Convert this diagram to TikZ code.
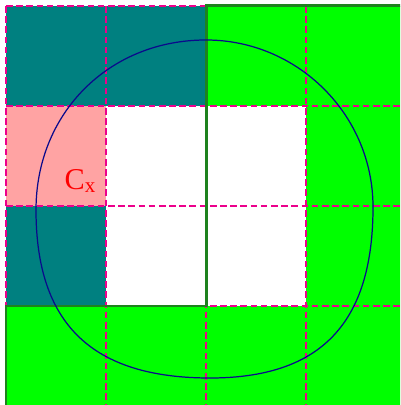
\documentclass[tikz,border=0pt]{standalone}
\usepackage{xcolor}
\usepackage{tikz}
\usepackage{fontspec}
\setmainfont{Liberation Serif}
\definecolor{cellpink}{RGB}{255,163,163}
\definecolor{edgegreen}{RGB}{30,130,30}
\definecolor{curveblue}{RGB}{10,10,140}

\begin{document}
\begin{tikzpicture}[x=1cm, y=-1cm, every node/.style={font=\fontsize{8.6}{10}\selectfont}]
  \useasboundingbox (-0.06,-0.06) rectangle (3.94,3.99);
  \clip (-0.06,-0.06) rectangle (3.94,3.99);
  % cells
  \fill[green] (2,0) rectangle (5,5);
  \fill[green] (0,3) rectangle (2,5);
  \fill[teal] (0,0) rectangle (2,1);
  \fill[teal] (0,2) rectangle (1,3);
  \fill[cellpink] (0,1) rectangle (1,2);
  \fill[white] (1,1) rectangle (3,3);
  % grid
  \foreach \i in {0,...,4} {
    \draw[magenta,line width=.75pt,dash pattern=on 1.9pt off 1.0pt] (\i,0) -- (\i,5);
    \draw[magenta,line width=.75pt,dash pattern=on 1.9pt off 1.0pt] (0,\i) -- (5,\i);
  }
  \draw[edgegreen,line width=.85pt] (5,0) -- (2,0) -- (2,3) -- (0,3) -- (0,5);
  % curve
  \draw[curveblue,line width=.35pt] (2.00,0.34)
    .. controls (2.92,0.34) and (3.67,1.09) .. (3.67,2.01)
    .. controls (3.67,3.17) and (3.15,3.72) .. (2.04,3.72)
    .. controls (0.86,3.72) and (0.30,3.18) .. (0.30,2.04)
    .. controls (0.30,1.07) and (1.03,0.34) .. (2.00,0.34) -- cycle;
  \node[red,anchor=base west,inner sep=0pt] (cx) at (0.58,1.84)
    {C\raisebox{-0.85pt}{\fontsize{6}{7}\selectfont x}};
\end{tikzpicture}
\end{document}
